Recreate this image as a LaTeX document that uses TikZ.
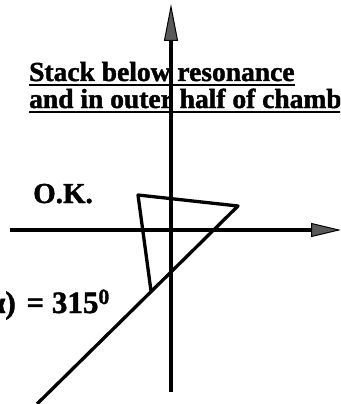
\documentclass[tikz,border=0pt]{standalone}
\usepackage{fontspec}
\setmainfont{Liberation Serif}[BoldFeatures={FakeBold=1.5}]
\usetikzlibrary{arrows.meta}
\begin{document}
\begin{tikzpicture}[x=1pt,y=-1pt,
  ax/.style={line width=3.3pt},
  tri/.style={line width=3.3pt, line join=round},
  lab/.style={font=\bfseries\fontsize{27.5}{30}\selectfont, inner sep=0pt, anchor=base west},
  eqlab/.style={font=\bfseries\fontsize{31}{34}\selectfont, inner sep=0pt, anchor=base east},
  ul/.style={line width=2.2pt},
  tip/.style={-{Triangle[length=#1, width=14pt, fill=black!65, line width=1pt]}}]
\useasboundingbox (0,0) rectangle (340,404);
\clip (0,0) rectangle (340,404);
% texts
\node[lab] (t1) at (29,81) {Stack below resonance};
\node[lab] (t2) at (29,108) {and in outer half of chamber};
\draw[ul] ([yshift=-4pt]t1.base west) -- ([yshift=-4pt]t1.base east);
\draw[ul] ([yshift=-4pt]t2.base west) -- ([yshift=-4pt]t2.base east);
\node[lab, font=\bfseries\fontsize{29}{32}\selectfont] (ok) at (33,203) {O.K.};
\node[eqlab] (eq) at (110,313) {= 315\textsuperscript{0}};
\node[eqlab] (eqa) at (16,313) {α)};
% axes
\coordinate (vtop) at (171,4);
\coordinate (vbot) at (171,392);
\coordinate (hl) at (10,230);
\coordinate (hr) at (341,230);
\draw[ax, tip=37pt] (vbot) -- (vtop);
\draw[ax, tip=30pt] (hl) -- (hr);
% triangle and diagonal
\coordinate (a) at (138,195);
\coordinate (b) at (238,206);
\coordinate (c) at (151,291);
\coordinate (e) at (37,404);
\draw[tri] (c) -- (a) -- (b) -- (e);
\end{tikzpicture}
\end{document}
